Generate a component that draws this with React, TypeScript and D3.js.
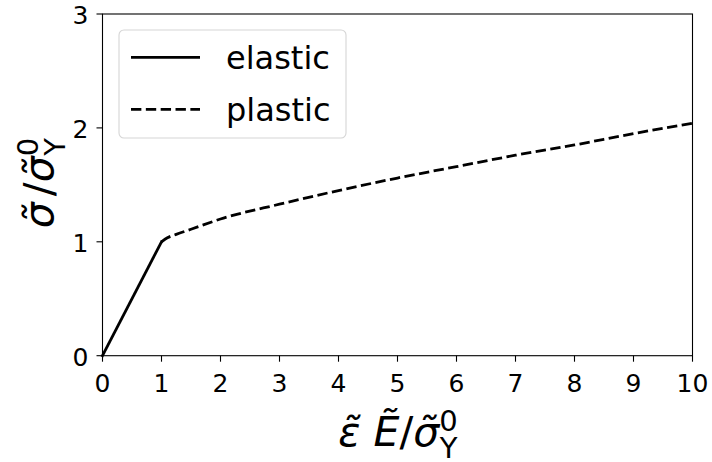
import React, { useEffect, useRef } from 'react';
import * as d3 from 'd3';

// elastic branch
const elasticX = [0, 1];
const elasticY = [0, 1];

// plastic branch
const plasticX = [1, 1.1, 1.25, 1.5, 2, 3, 4, 5, 6, 7, 8, 9, 10];
const plasticY = [1, 1.035, 1.065, 1.11, 1.2, 1.33, 1.45, 1.56, 1.66, 1.76, 1.85, 1.95, 2.04];

const xTicks = [0, 1, 2, 3, 4, 5, 6, 7, 8, 9, 10];
const yTicks = [0, 1, 2, 3];

const legendLabels = ['elastic', 'plastic'];

export default function App() {
  const ref = useRef<SVGSVGElement | null>(null);

  useEffect(() => {
    const svg = d3.select(ref.current);
    svg.selectAll('*').remove();

    const W = 712, H = 462;
    const left = 102.5, right = 692.5, top = 14, bottom = 355.7;
    const font = 'DejaVu Sans';

    const x = d3.scaleLinear().domain([0, 10]).range([left, right]);
    const y = d3.scaleLinear().domain([0, 3]).range([bottom, top]);

    svg.append('rect').attr('width', W).attr('height', H).attr('fill', '#fff');

    const line = d3.line<[number, number]>()
      .x(d => x(d[0]))
      .y(d => y(d[1]));
    const curve = d3.line<[number, number]>()
      .x(d => x(d[0]))
      .y(d => y(d[1]))
      .curve(d3.curveMonotoneX);

    const lw = 2.8;
    const dash = `${3.7 * lw},${1.6 * lw}`;

    svg.append('path')
      .attr('d', line(elasticX.map((v, i) => [v, elasticY[i]] as [number, number])))
      .attr('fill', 'none')
      .attr('stroke', '#000')
      .attr('stroke-width', lw)
      .attr('stroke-linecap', 'square');

    svg.append('path')
      .attr('d', curve(plasticX.map((v, i) => [v, plasticY[i]] as [number, number])))
      .attr('fill', 'none')
      .attr('stroke', '#000')
      .attr('stroke-width', lw)
      .attr('stroke-dasharray', dash);

    // frame
    svg.append('rect')
      .attr('x', left).attr('y', top)
      .attr('width', right - left).attr('height', bottom - top)
      .attr('fill', 'none').attr('stroke', '#000').attr('stroke-width', 1.1);

    // x ticks
    const xg = svg.append('g');
    xTicks.forEach(t => {
      xg.append('line')
        .attr('x1', x(t)).attr('x2', x(t))
        .attr('y1', bottom).attr('y2', bottom + 6)
        .attr('stroke', '#000').attr('stroke-width', 1.1);
      xg.append('text')
        .attr('x', x(t)).attr('y', bottom + 36)
        .attr('text-anchor', 'middle')
        .style('font-family', font).style('font-size', '25px')
        .text(t);
    });

    // y ticks
    const yg = svg.append('g');
    yTicks.forEach(t => {
      yg.append('line')
        .attr('x1', left - 6).attr('x2', left)
        .attr('y1', y(t)).attr('y2', y(t))
        .attr('stroke', '#000').attr('stroke-width', 1.1);
      yg.append('text')
        .attr('x', left - 14).attr('y', y(t) + 10)
        .attr('text-anchor', 'end')
        .style('font-family', font).style('font-size', '25px')
        .text(t);
    });

    // x label: ε̃ Ẽ/σ̃⁰_Y
    const xl = svg.append('text')
      .attr('x', 398).attr('y', 446)
      .attr('text-anchor', 'middle')
      .style('font-family', font).style('font-size', '41px');
    xl.append('tspan').style('font-style', 'italic').text('\u03B5\u0303 E\u0303');
    xl.append('tspan').text('/');
    xl.append('tspan').style('font-style', 'italic').text('\u03C3\u0303');
    xl.append('tspan').attr('dy', -15).style('font-size', '29px').text('0');
    xl.append('tspan').attr('dx', -18).attr('dy', 27).style('font-size', '29px').text('Y');

    // y label: σ̃ /σ̃⁰_Y
    const yl = svg.append('text')
      .attr('transform', 'translate(53,183) rotate(-90)')
      .attr('text-anchor', 'middle')
      .style('font-family', font).style('font-size', '41px');
    yl.append('tspan').style('font-style', 'italic').text('\u03C3\u0303');
    yl.append('tspan').attr('dx', 6).text('/');
    yl.append('tspan').style('font-style', 'italic').text('\u03C3\u0303');
    yl.append('tspan').attr('dy', -15).style('font-size', '29px').text('0');
    yl.append('tspan').attr('dx', -18).attr('dy', 27).style('font-size', '29px').text('Y');

    // legend
    const lg = svg.append('g');
    lg.append('rect')
      .attr('x', 119).attr('y', 30).attr('width', 227).attr('height', 108)
      .attr('rx', 5)
      .attr('fill', '#fff').attr('fill-opacity', 0.8)
      .attr('stroke', '#d5d5d5').attr('stroke-width', 1.1);
    legendLabels.forEach((lab, i) => {
      const ly = 57.3 + i * 52;
      lg.append('line')
        .attr('x1', 131).attr('x2', 200)
        .attr('y1', ly).attr('y2', ly)
        .attr('stroke', '#000').attr('stroke-width', lw)
        .attr('stroke-dasharray', i === 1 ? dash : null);
      lg.append('text')
        .attr('x', 226).attr('y', ly + 12)
        .style('font-family', font).style('font-size', '32px')
        .text(lab);
    });
  }, []);

  return (
    <svg ref={ref} width={712} height={462} style={{ position: 'absolute', left: 0, top: 0 }} />
  );
}
